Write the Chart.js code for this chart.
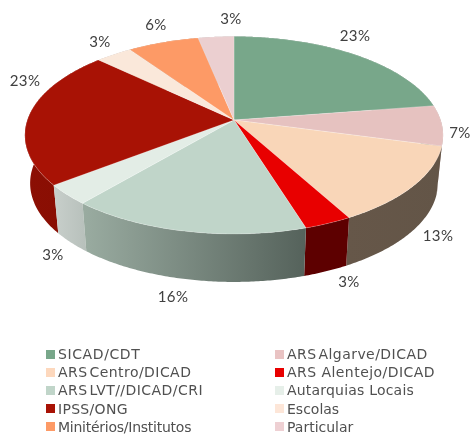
<!DOCTYPE html>
<html>
<head>
<meta charset="utf-8">
<script src="https://cdn.jsdelivr.net/npm/chart.js@4"></script>
<style>
  html, body { margin: 0; background: #fff; }
  #wrap { position: relative; width: 472px; height: 435px; overflow: hidden; }
  #legend div { position: absolute; font: 14px "DejaVu Sans", sans-serif; color: #505050; white-space: nowrap; line-height: 18px; }
  #legend i { position: absolute; width: 9px; height: 9px; }
</style>
</head>
<body>
<div id="wrap">
  <canvas id="pie" width="472" height="435"></canvas>
  <div id="legend"></div>
</div>
<script>
// chart data
const categories = ["SICAD/CDT", "ARS Algarve/DICAD", "ARS Centro/DICAD", "ARS Alentejo/DICAD", "ARS LVT//DICAD/CRI",
    "Autarquias Locais", "IPSS/ONG", "Escolas", "Minitérios/Institutos", "Particular"];
const shares = [22.6, 6.6, 12.8, 3.2, 16.0, 3.3, 22.6, 3.3, 6.4, 3.2];

// colours: top face, then side (left and right end of the gradient)
const topColors = ["#78a78a", "#e6c2c0", "#f9d6b8", "#e80000", "#c0d5c9", "#e3ede6", "#a81205", "#fae8da", "#fd9a66", "#ebcfd0"];
const sideLeft = ["#5a7d68", "#ad9290", "#665749", "#5d0000", "#9aaca1", "#c8cfcb", "#8c0f04", "#bcaea4", "#be744c", "#b09b9c"];
const sideRight = ["#5a7d68", "#ad9290", "#635547", "#5d0000", "#55625b", "#b7c0bb", "#860d02", "#bcaea4", "#be744c", "#b09b9c"];
const legendColors = ["#78a78a", "#e9c3c3", "#fdd8bd", "#e80000", "#c0d5c9", "#e6efe9", "#a81205", "#fde6d8", "#fd9a66", "#eed0d3"];
// letter spacing per legend entry, the original font is wider in the capitals
const legendTrack = [0.6, 0.45, 0.45, 0.45, 0.45, 0.2, 0.3, 0, -0.25, 0];

// where the percent labels sit outside the pie
const labelX = [355, 460, 438, 349, 173, 53, 25, 100, 156, 231];
const labelY = [36, 133, 236, 282, 297, 255, 81, 42, 25, 19];

// the look of the 3D tilt, relative to the radius Chart.js gives us
const tiltX = 1.7217, tiltY = 0.8033, persp = -0.154, depth = 0.4, bottomScale = 0.975;

function project(arc, angle, low) {
    const R = arc.outerRadius;
    const u = Math.cos(angle), v = Math.sin(angle);
    const w = 1 + persp * v;
    const s = low ? bottomScale : 1;
    return [arc.x + s * tiltX * R * u / w, arc.y + tiltY * R * v / w + (low ? depth * R : 0)];
}

function arcPoints(arc, low) {
    const pts = [];
    const n = Math.ceil((arc.endAngle - arc.startAngle) / 0.01);
    for (let i = 0; i <= n; i++) {
        pts.push(project(arc, arc.startAngle + (arc.endAngle - arc.startAngle) * i / n, low));
    }
    return pts;
}

const pie3d = {
    id: "pie3d",
    beforeDatasetsDraw(chart) {
        const ctx = chart.ctx;
        const arcs = chart.getDatasetMeta(0).data;

        // sides first, far slices before near ones
        const order = arcs.map((a, i) => i).sort((p, q) =>
            Math.sin((arcs[p].startAngle + arcs[p].endAngle) / 2) - Math.sin((arcs[q].startAngle + arcs[q].endAngle) / 2));
        order.forEach(i => {
            const top = arcPoints(arcs[i], false), low = arcPoints(arcs[i], true).reverse();
            const xs = top.concat(low).map(p => p[0]);
            const g = ctx.createLinearGradient(Math.min(...xs), 0, Math.max(...xs), 0);
            g.addColorStop(0, sideLeft[i]);
            g.addColorStop(1, sideRight[i]);
            ctx.beginPath();
            top.concat(low).forEach((p, k) => k ? ctx.lineTo(p[0], p[1]) : ctx.moveTo(p[0], p[1]));
            ctx.closePath();
            ctx.fillStyle = g;
            ctx.fill();
        });

        // top faces
        arcs.forEach((arc, i) => {
            ctx.beginPath();
            ctx.moveTo(arc.x, arc.y);
            arcPoints(arc, false).forEach(p => ctx.lineTo(p[0], p[1]));
            ctx.closePath();
            ctx.fillStyle = topColors[i];
            ctx.fill();
            ctx.strokeStyle = "rgba(255,255,255,.35)";
            ctx.lineWidth = 0.6;
            ctx.stroke();
        });

        // percent labels
        ctx.font = "15px Lato, sans-serif";
        ctx.fillStyle = "#404040";
        ctx.textAlign = "center";
        ctx.textBaseline = "middle";
        ctx.letterSpacing = "0.4px";
        shares.forEach((s, i) => ctx.fillText(Math.round(s) + "%", labelX[i], labelY[i]));
        return false; // the flat default pie is not wanted
    }
};

new Chart(document.getElementById("pie"), {
    type: "pie",
    data: { labels: categories, datasets: [{ data: shares, backgroundColor: topColors, borderWidth: 0 }] },
    options: {
        responsive: false,
        animation: false,
        layout: { padding: { left: 25, right: 29, top: 0, bottom: 195 } },
        plugins: { legend: { display: false }, tooltip: { enabled: false } }
    },
    plugins: [pie3d]
});

// legend in two columns, filled row by row
const legend = document.getElementById("legend");
categories.forEach((name, i) => {
    const col = i % 2, row = (i - col) / 2;
    const y = 354 + row * 18.2;
    const d = document.createElement("div");
    d.textContent = name;
    d.style.left = (col ? 287 : 58) + "px";
    d.style.top = (y - 9) + "px";
    d.style.letterSpacing = legendTrack[i] + "px";
    // the reference squeezes the space after ARS, except for Alentejo
    if (name.startsWith("ARS") && !name.includes("Alentejo")) d.style.wordSpacing = "-3px";
    legend.appendChild(d);
    const sq = document.createElement("i");
    sq.style.left = (col ? 275 : 46) + "px";
    sq.style.top = (y - 4.5) + "px";
    sq.style.background = legendColors[i];
    legend.appendChild(sq);
});
</script>
</body>
</html>
